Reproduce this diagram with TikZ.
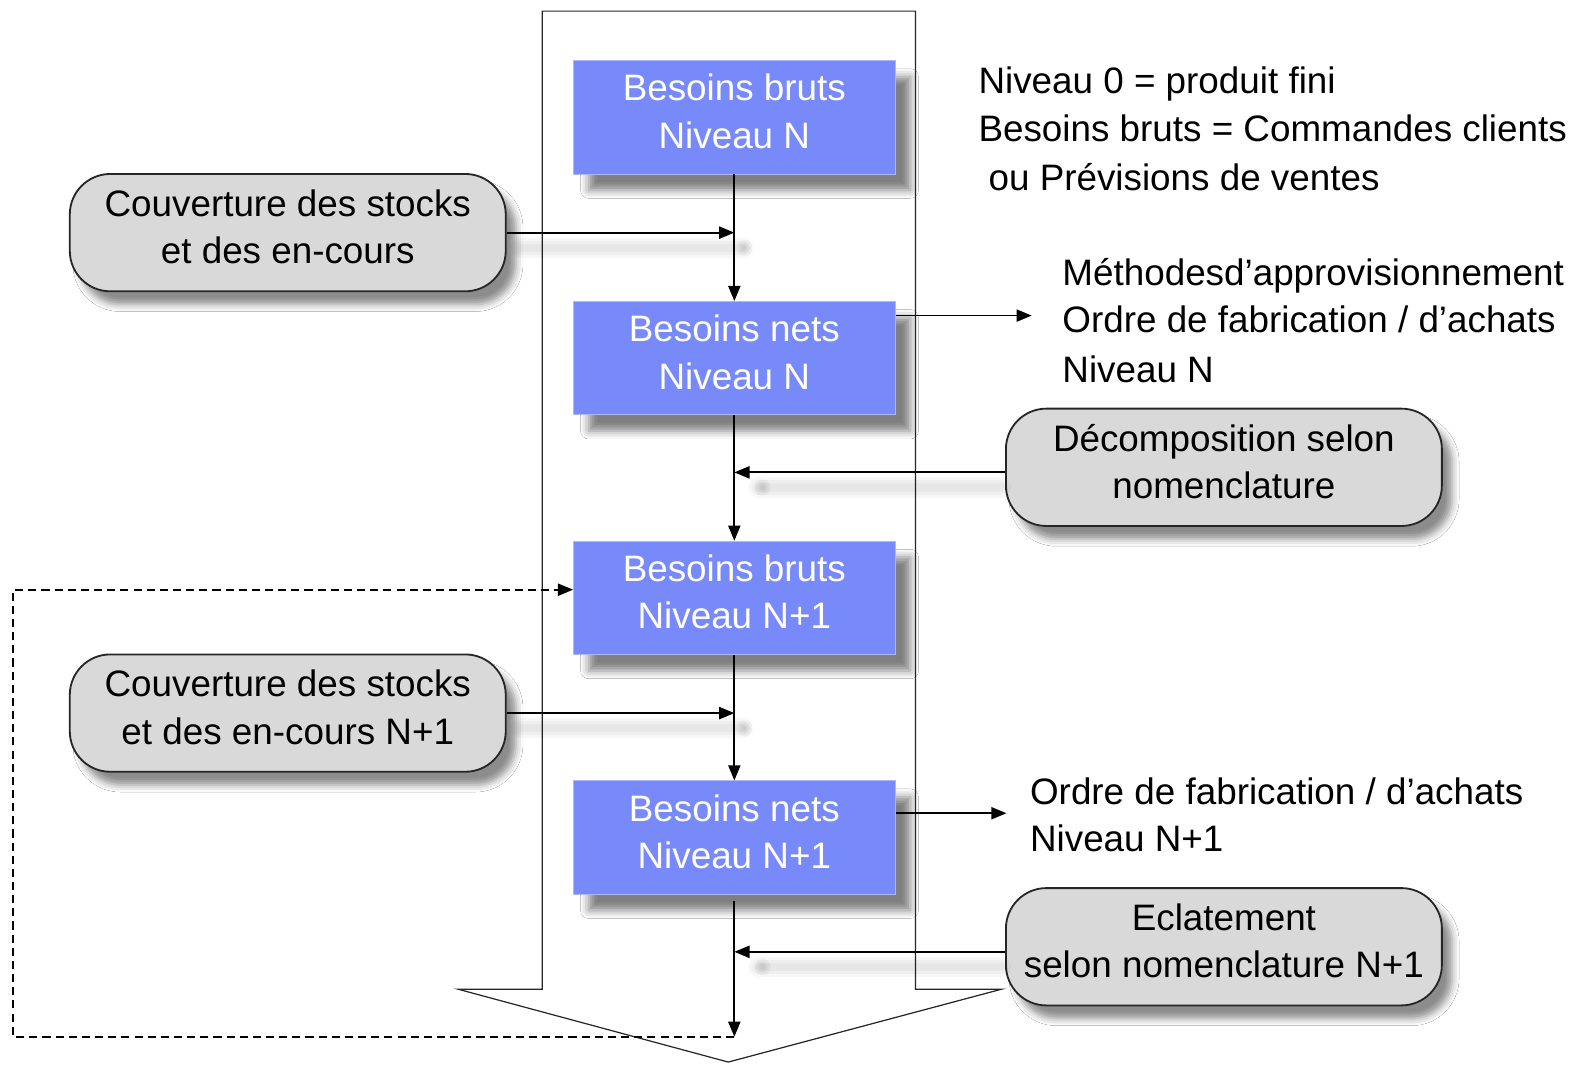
\documentclass[tikz,border=0pt]{standalone}
\usepackage{fontspec}
\setmainfont{Liberation Sans}
\usetikzlibrary{arrows.meta,shadows.blur}
\definecolor{boxblue}{RGB}{120,138,250}
\definecolor{boxgrey}{RGB}{217,217,217}

\begin{document}
\begin{tikzpicture}[x=0.5pt,y=-0.5pt,
  every node/.style={font=\fontsize{18.2pt}{23.5pt}\selectfont},
  bluebox/.style={fill=boxblue, draw=boxblue!60!white, line width=0.4pt,
    minimum width=159pt, minimum height=56pt, inner sep=0pt,
    text=white, align=center, text depth=6pt,
    blur shadow={shadow xshift=7.5pt, shadow yshift=-8pt,
      shadow blur radius=4pt, shadow opacity=50}},
  greybox/.style={fill=boxgrey, draw=black!85, line width=0.9pt,
    rounded corners=20pt, minimum width=215.5pt, minimum height=58pt,
    inner sep=0pt, align=center, text depth=6pt,
    blur shadow={shadow xshift=5pt, shadow yshift=-6.5pt,
      shadow blur radius=3.5pt, shadow opacity=45}},
  plain/.style={anchor=base west, inner sep=0pt},
  link/.style={line width=0.9pt, -{Triangle[length=7.5pt,width=6pt]}},
  loopback/.style={line width=0.8pt, dash pattern=on 4pt off 2.5pt,
    -{Triangle[length=7.5pt,width=6pt]}},
  haze/.style={draw=black, line cap=round, opacity=0.03}
]
% canvas
\path[use as bounding box, fill=white] (0,0) rectangle (1568,1055);

% large downward arrow framing the process
\draw[line width=0.6pt, black!85]
  (536,11) -- (905,11) -- (905,978) -- (990,978) -- (720,1050)
  -- (453,978) -- (536,978) -- cycle;

% main chain of requirements
\node[bluebox] (b1) at (726,116) {Besoins bruts\\Niveau N};
\node[bluebox] (b2) at (726,354) {Besoins nets\\Niveau N};
\node[bluebox] (b3) at (726,591) {Besoins bruts\\Niveau N+1};
\node[bluebox] (b4) at (726,828) {Besoins nets\\Niveau N+1};
\coordinate (end) at (726,1025);

% side inputs
\node[greybox] (c1) at (284.5,230) {Couverture des stocks\\et des en-cours};
\node[greybox] (c2) at (284.5,705) {Couverture des stocks\\et des en-cours N+1};
\node[greybox] (d1) at (1210,462) {Décomposition selon\\nomenclature};
\node[greybox] (d2) at (1210,936) {Eclatement\\selon nomenclature N+1};

% notes
\node[plain] (t1) at (967,92) {Niveau 0 = produit fini};
\node[plain] (t2) at (967,140) {Besoins bruts = Commandes clients};
\node[plain] (t3) at (977,188) {ou Prévisions de ventes};

\node[plain] (m1) at (1050,282) {Méthodesd’approvisionnement};
\node[plain] (m2) at (1050,329) {Ordre de fabrication / d’achats};
\node[plain] (m3) at (1050,378) {Niveau N};

\node[plain] (o1) at (1018,795) {Ordre de fabrication / d’achats};
\node[plain] (o2) at (1018,842) {Niveau N+1};

\coordinate (m0) at (1020,312);
\coordinate (o0) at (995,804);
\coordinate (d1in) at ([yshift=-2.5pt]d1.west);
\coordinate (d2in) at ([yshift=-2.5pt]d2.west);

% soft shadows under the incoming connectors
\foreach \w in {10,7,4}{
  \draw[haze, line width=\w] ([shift={(14,15)}]c1.east) -- ([shift={(8,15)}]c1.east -| b1.south);
  \draw[haze, line width=\w] ([shift={(14,15)}]c2.east) -- ([shift={(8,15)}]c2.east -| b3.south);
  \draw[haze, line width=\w] ([shift={(-4,15)}]d1in) -- ([shift={(24,15)}]d1in -| b2.south);
  \draw[haze, line width=\w] ([shift={(-4,15)}]d2in) -- ([shift={(24,15)}]d2in -| b4.south);
}
\foreach \r in {8,5.5,3}{
  \fill[black, opacity=0.045] ([shift={(28,15)}]d1in -| b2.south) circle[radius=\r];
  \fill[black, opacity=0.045] ([shift={(28,15)}]d2in -| b4.south) circle[radius=\r];
  \fill[black, opacity=0.035] ([shift={(10,15)}]c1.east -| b1.south) circle[radius=\r];
  \fill[black, opacity=0.035] ([shift={(10,15)}]c2.east -| b3.south) circle[radius=\r];
}

% vertical flow
\draw[link] (b1) -- (b2);
\draw[link] (b2) -- (b3);
\draw[link] (b3) -- (b4);
\draw[link] (b4.south) ++(0,6) -- (end);

% inputs joining the flow
\draw[link] (c1.east) -- (c1.east -| b1.south);
\draw[link] (c2.east) -- (c2.east -| b3.south);
\draw[link] (d1in) -- (d1in -| b2.south);
\draw[link] (d2in) -- (d2in -| b4.south);

% outputs
\draw[link] (b2.east |- m0) -- (m0);
\draw[link] (b4.east |- o0) -- (o0);

% loop back to the next level
\draw[loopback] (end) -- (13,1025) -- (13,583) -- (b3.west |- 0,583);
\end{tikzpicture}
\end{document}
